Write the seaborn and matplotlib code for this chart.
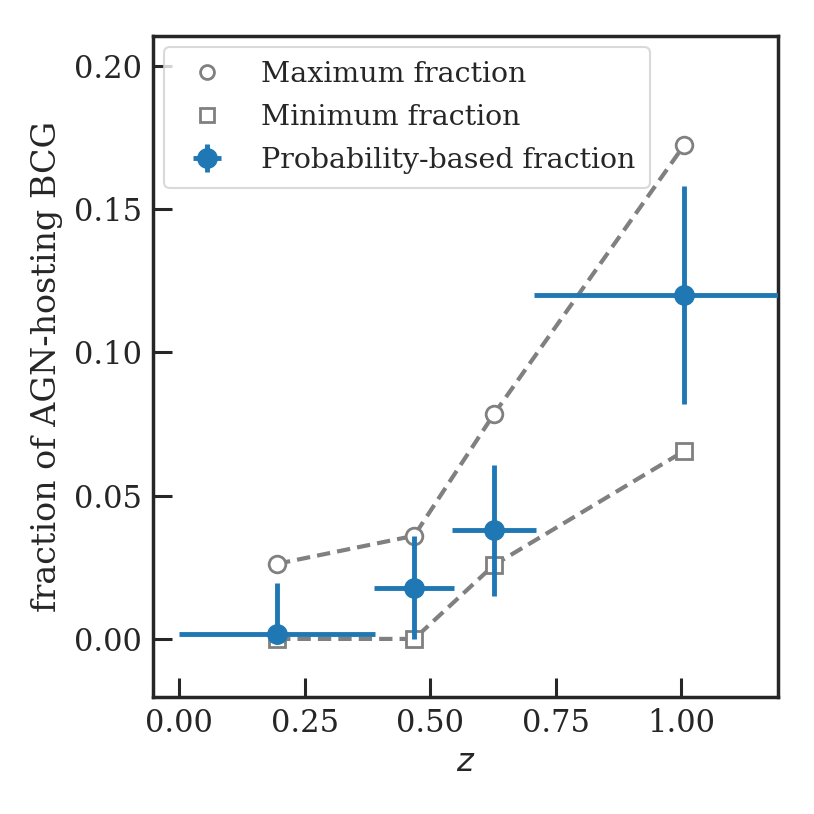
import numpy as np
import pandas as pd
import matplotlib
matplotlib.use('Agg')
import matplotlib.pyplot as plt
import seaborn as sns

# redshift bins and fractions
z_max = [0.195, 0.468, 0.627, 1.006]
frac_max = [0.0262, 0.0360, 0.0785, 0.1724]
z_min = [0.195, 0.468, 0.627, 1.006]
frac_min = [0.0, 0.0, 0.0258, 0.0656]

z_prob = [0.195, 0.468, 0.627, 1.006]
frac_prob = [0.0018, 0.0178, 0.0380, 0.1200]
z_err = [0.195, 0.080, 0.083, 0.30]
frac_err_lo = [0.0018, 0.0178, 0.0230, 0.0380]
frac_err_hi = [0.0177, 0.0182, 0.0227, 0.0380]

df_max = pd.DataFrame({'z': z_max, 'frac': frac_max})
df_min = pd.DataFrame({'z': z_min, 'frac': frac_min})

sns.set_theme(style='ticks')
plt.rcParams['font.family'] = ['DejaVu Serif']
plt.rcParams['mathtext.fontset'] = 'dejavusans'

fig, ax = plt.subplots(figsize=(8.14, 8.14), dpi=100)
fig.subplots_adjust(left=0.188, right=0.956, bottom=0.144, top=0.956)

grey = '#808080'
blue = '#1f77b4'

# dashed connecting lines
sns.lineplot(data=df_max, x='z', y='frac', ax=ax, color=grey, linewidth=3,
             linestyle=(0, (3.2, 1.7)), zorder=1)
sns.lineplot(data=df_min, x='z', y='frac', ax=ax, color=grey, linewidth=3,
             linestyle=(0, (3.2, 1.7)), zorder=1)

# open markers
ax.plot(df_max['z'], df_max['frac'], 'o', mfc='white', mec=grey, mew=2,
        ms=12, ls='none', label='Maximum fraction', zorder=2)
ax.plot(df_min['z'], df_min['frac'], 's', mfc='white', mec=grey, mew=2,
        ms=12, ls='none', label='Minimum fraction', zorder=2)

ax.errorbar(z_prob, frac_prob, xerr=z_err,
            yerr=[frac_err_lo, frac_err_hi], fmt='o', color=blue,
            ms=14, elinewidth=3.5, capsize=0, label='Probability-based fraction',
            zorder=3)

ax.set_xlim(-0.052, 1.193)
ax.set_ylim(-0.0202, 0.2105)
ax.set_xticks([0.0, 0.25, 0.5, 0.75, 1.0])
ax.set_yticks([0.0, 0.05, 0.10, 0.15, 0.20])
ax.xaxis.set_major_formatter(matplotlib.ticker.FormatStrFormatter('%.2f'))
ax.yaxis.set_major_formatter(matplotlib.ticker.FormatStrFormatter('%.2f'))

ax.tick_params(direction='in', length=14, width=2.2, labelsize=22, pad=8,
               colors='#262626')
for s in ax.spines.values():
    s.set_linewidth(2.5)
    s.set_color('#262626')

ax.set_xlabel('$z$', fontsize=23, labelpad=6)
ax.set_ylabel('fraction of AGN-hosting BCG', fontsize=24, labelpad=8)

leg = ax.legend(loc='upper left', fontsize=20.5, frameon=True, framealpha=0.8,
                edgecolor='#d0d0d0', handletextpad=0.9, borderaxespad=0.4,
                borderpad=0.5, labelspacing=0.55)
leg.get_frame().set_linewidth(1.5)
handles = leg.legend_handles
handles[0].set_markersize(10)
handles[1].set_markersize(10)

fig.savefig('out.png', dpi=100)
